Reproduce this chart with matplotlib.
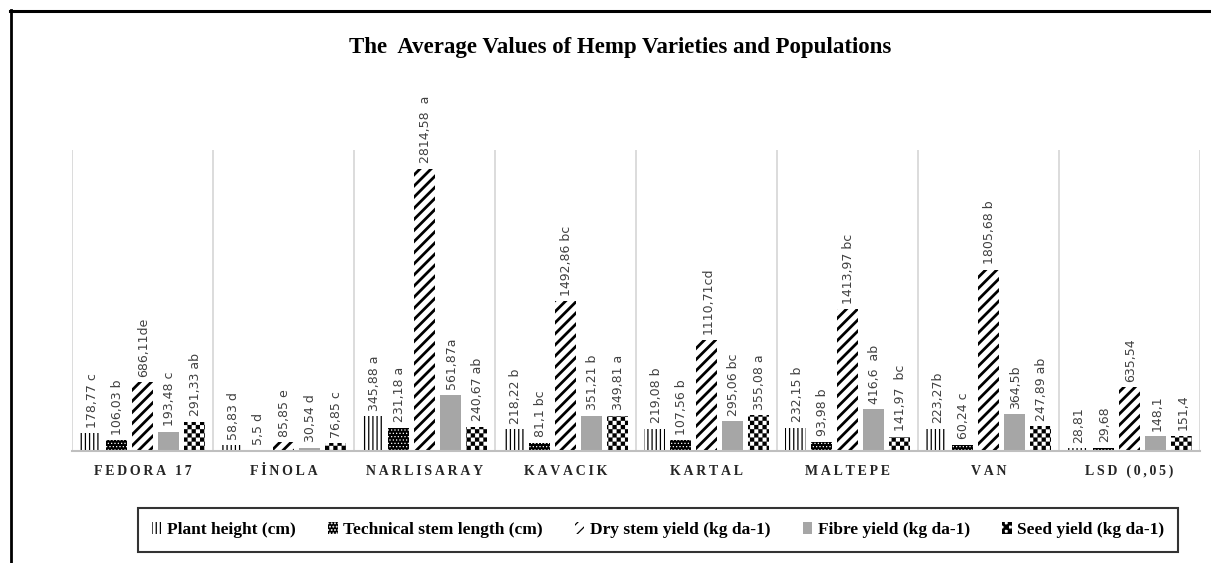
import numpy as np
import matplotlib
matplotlib.use('Agg')
import matplotlib.pyplot as plt
from matplotlib import hatch as mhatch
from matplotlib.path import Path
from matplotlib.lines import Line2D

# ---------------- data ----------------
categories = ['FEDORA 17', 'FİNOLA', 'NARLISARAY', 'KAVACIK', 'KARTAL',
              'MALTEPE', 'VAN', 'LSD (0,05)']
series_names = ['Plant height (cm)', 'Technical stem length (cm)',
                'Dry stem yield (kg da-1)', 'Fibre yield (kg da-1)',
                'Seed yield (kg da-1)']
plant_height = [178.77, 58.83, 345.88, 218.22, 219.08, 232.15, 223.27, 28.81]
stem_length = [106.03, 5.5, 231.18, 81.1, 107.56, 93.98, 60.24, 29.68]
dry_stem = [686.11, 85.85, 2814.58, 1492.86, 1110.71, 1413.97, 1805.68, 635.54]
fibre_yield = [193.48, 30.54, 561.87, 351.21, 295.06, 416.6, 364.5, 148.1]
seed_yield = [291.33, 76.85, 240.67, 349.81, 355.08, 141.97, 247.89, 151.4]

labels_plant = ['178,77 c', '58,83 d', '345,88 a', '218,22 b', '219,08 b',
                '232,15 b', '223,27b', '28,81']
labels_stem = ['106,03 b', '5,5 d', '231,18 a', '81,1 bc', '107,56 b',
               '93,98 b', '60,24 c', '29,68']
labels_dry = ['686,11de', '85,85 e', '2814,58  a', '1492,86 bc', '1110,71cd',
              '1413,97 bc', '1805,68 b', '635,54']
labels_fibre = ['193,48 c', '30,54 d', '561,87a', '351,21 b', '295,06 bc',
                '416,6  ab', '364,5b', '148,1']
labels_seed = ['291,33 ab', '76,85 c', '240,67 ab', '349,81 a', '355,08 a',
               '141,97  bc', '247,89 ab', '151,4']

title = 'The  Average Values of Hemp Varieties and Populations'


# ---------------- checkerboard hatch ----------------
class CheckerHatch(mhatch.HatchPatternBase):
    def __init__(self, hatch, density):
        self.n = hatch.count('*') * density * 2
        if self.n:
            self.cells = [(i, j) for i in range(self.n) for j in range(self.n)
                          if (i + j) % 2 == 0]
            self.num_vertices = len(self.cells) * 5
        else:
            self.cells = []
            self.num_vertices = 0

    def set_vertices_and_codes(self, vertices, codes):
        s = 1.0 / self.n
        sq = np.array([[0, 0], [s, 0], [s, s], [0, s], [0, 0]])
        cc = [Path.MOVETO, Path.LINETO, Path.LINETO, Path.LINETO, Path.CLOSEPOLY]
        k = 0
        for (i, j) in self.cells:
            vertices[k:k + 5] = sq + [i * s, j * s]
            codes[k:k + 5] = cc
            k += 5


mhatch._hatch_types = [t for t in mhatch._hatch_types
                       if t is not mhatch.Stars] + [CheckerHatch]

# ---------------- figure ----------------
W, H = 1211, 563
fig = plt.figure(figsize=(W / 100, H / 100), dpi=100)
fig.patch.set_facecolor('white')

ax = fig.add_axes([72 / W, 1 - 451 / H, (1200 - 72) / W, (451 - 150) / H])
ax.set_xlim(-0.5, 7.5)
ax.set_ylim(0, 3000)

for b in np.arange(-0.5, 8.0, 1.0):
    ax.axvline(b, color='#D9D9D9', lw=1.3, zorder=0)

x = np.arange(len(categories))
pitch = 0.184
width = 0.149

styles = [
    dict(facecolor='white', edgecolor='black', hatch='||||', hlw=0.9),
    dict(facecolor='black', edgecolor='white', hatch='.....', hlw=0.5),
    dict(facecolor='white', edgecolor='black', hatch='///', hlw=2.0),
    dict(facecolor='#A6A6A6', edgecolor='#A6A6A6', hatch=None, hlw=1.0),
    dict(facecolor='white', edgecolor='black', hatch='**', hlw=0.1),
]
all_values = [plant_height, stem_length, dry_stem, fibre_yield, seed_yield]
all_labels = [labels_plant, labels_stem, labels_dry, labels_fibre, labels_seed]

handles = []
for k, (vals, labs, st) in enumerate(zip(all_values, all_labels, styles)):
    with plt.rc_context({'hatch.linewidth': st['hlw']}):
        bars = ax.bar(x + (k - 2) * pitch, vals, width=width,
                      facecolor=st['facecolor'], edgecolor=st['edgecolor'],
                      hatch=st['hatch'], linewidth=0, zorder=2,
                      label=series_names[k])
        for p in bars:
            if hasattr(p, 'set_hatch_linewidth'):
                p.set_hatch_linewidth(st['hlw'])
    handles.append(bars)
    for xi, v, t in zip(x + (k - 2) * pitch, vals, labs):
        ax.annotate(t, (xi, v), xytext=(1, 4), textcoords='offset points',
                    rotation=90, ha='center', va='bottom', fontsize=9,
                    family='DejaVu Sans', color='#404040', clip_on=False,
                    annotation_clip=False)

for s in ['top', 'left', 'right']:
    ax.spines[s].set_visible(False)
ax.spines['bottom'].set_color('#BFBFBF')
ax.spines['bottom'].set_linewidth(1.5)
ax.set_yticks([])
ax.set_xticks(x)
spaced = ['\u2009'.join(list(c)) for c in categories]
ax.set_xticklabels(spaced, family=['Liberation Serif', 'DejaVu Serif'],
                   fontweight='bold', fontsize=10, color='#262626')
ax.tick_params(axis='x', length=0, pad=10)

fig.text(620 / W, 1 - 47 / H, title, ha='center', va='center',
         family='Liberation Serif', fontweight='bold', fontsize=16.5)

# legend
with plt.rc_context({'hatch.linewidth': 0.9}):
    leg = fig.legend(handles=handles, labels=series_names, loc='center',
                     bbox_to_anchor=(138 / W, 1 - 553 / H, 1040 / W, 46 / H),
                     mode='expand', ncol=5, frameon=True, fancybox=False,
                     edgecolor='black', handlelength=0.55, handleheight=0.7,
                     handletextpad=0.3, columnspacing=1.5, borderpad=0.8,
                     borderaxespad=0,
                     prop={'family': 'Liberation Serif', 'weight': 'bold',
                           'size': 12.5})
leg.get_frame().set_linewidth(1.5)

# figure border (top and left)
fig.add_artist(Line2D([10 / W, 1.0], [1 - 11 / H, 1 - 11 / H],
                      transform=fig.transFigure, color='black', lw=2.2))
fig.add_artist(Line2D([11 / W, 11 / W], [1 - 10 / H, 0.0],
                      transform=fig.transFigure, color='black', lw=2.0))

fig.savefig('out.png', dpi=100, facecolor='white')
